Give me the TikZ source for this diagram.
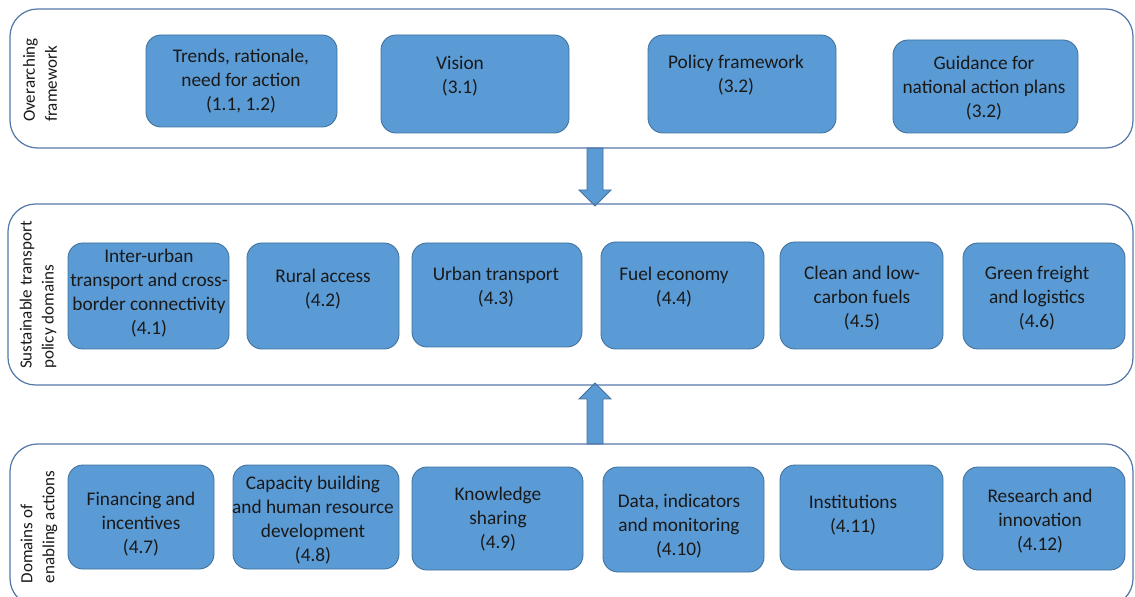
\documentclass[tikz,border=0pt]{standalone}
\usepackage{fontspec}
\setmainfont{Carlito}
\usetikzlibrary{fit,calc}
\definecolor{boxblue}{RGB}{91,155,213}
\definecolor{boxedge}{RGB}{65,113,156}
\definecolor{paneledge}{RGB}{84,120,170}
\definecolor{txtcol}{RGB}{25,25,25}
\tikzset{
  panel/.style={draw=paneledge, line width=0.7pt, rounded corners=0.55cm, inner sep=0pt},
  box/.style={draw=boxedge, fill=boxblue, line width=0.5pt, rounded corners=0.3cm, inner sep=0pt},
  boxtext/.style={text=txtcol, align=center, font=\fontsize{11}{13.6}\selectfont, inner sep=0pt},
  side/.style={text=txtcol, align=left, rotate=90, font=\fontsize{9.7}{12.5}\selectfont, inner sep=0pt},
  barrow/.style={draw=boxedge, fill=boxblue, line width=0.5pt}
}
\begin{document}
\begin{tikzpicture}[x=0.02cm, y=-0.02cm]
\useasboundingbox (0,0) rectangle (1135,597);
\clip (0,0) rectangle (1135,597);

% block arrows between the panels
\coordinate (downTop) at (595,148);
\coordinate (downTip) at (595,206);
\draw[barrow] ($(downTop)+(-8,0)$) -- ($(downTip)+(-8,-16)$) -- ($(downTip)+(-16,-16)$) -- (downTip)
  -- ($(downTip)+(16,-16)$) -- ($(downTip)+(8,-16)$) -- ($(downTop)+(8,0)$) -- cycle;

\coordinate (upBot) at (595,444);
\coordinate (upTip) at (595,383);
\draw[barrow] ($(upBot)+(-8,0)$) -- ($(upTip)+(-8,16)$) -- ($(upTip)+(-16,16)$) -- (upTip)
  -- ($(upTip)+(16,16)$) -- ($(upTip)+(8,16)$) -- ($(upBot)+(8,0)$) -- cycle;

%---------------------------------
% panels
\node[panel, fit={(10,9) (1133,148)}] (over) {};
\node[panel, fit={(8,204) (1133,385)}] (domains) {};
\node[panel, fit={(10,444) (1133,606)}] (enabling) {};

\node[side] (overL) at (40,80) {Overarching\\framework};
\node[side] (domainsL) at (38,295) {Sustainable transport\\policy domains};
\node[side] (enablingL) at (39,527) {Domains of\\enabling actions};

%---------------------------------
% overarching framework
\node[box, fit={(146,35) (337,127)}] (trends) {};
\node[boxtext] (trendsT) at (241,81) {Trends, rationale,\\need for action\\(1.1, 1.2)};
\node[box, fit={(381,35) (569,133)}] (vision) {};
\node[boxtext] (visionT) at (460,76) {Vision\\(3.1)};
\node[box, fit={(648,35) (836,133)}] (policy) {};
\node[boxtext] (policyT) at (736,75) {Policy framework\\(3.2)};
\node[box, fit={(893,40) (1078,133)}] (guidance) {};
\node[boxtext] (guidanceT) at (984,88) {Guidance for\\national action plans\\(3.2)};

%---------------------------------
% policy domains
\node[box, fit={(68,243) (229,349)}] (interurban) {};
\node[boxtext] (interurbanT) at (149,293) {Inter-urban\\transport and cross-\\border connectivity\\(4.1)};
\node[box, fit={(247,243) (399,349)}] (rural) {};
\node[boxtext] (ruralT) at (323,289) {Rural access\\(4.2)};
\node[box, fit={(412,243) (582,347)}] (urban) {};
\node[boxtext] (urbanT) at (496,287) {Urban transport\\(4.3)};
\node[box, fit={(601,242) (764,349)}] (fuel) {};
\node[boxtext] (fuelT) at (674,287) {Fuel economy\\(4.4)};
\node[box, fit={(780,242) (943,349)}] (clean) {};
\node[boxtext] (cleanT) at (862,298) {Clean and low-\\carbon fuels\\(4.5)};
\node[box, fit={(963,243) (1125,349)}] (green) {};
\node[boxtext] (greenT) at (1037,298) {Green freight\\and logistics\\(4.6)};

%---------------------------------
% enabling actions
\node[box, fit={(68,465) (214,569)}] (financing) {};
\node[boxtext] (financingT) at (141,524) {Financing and\\incentives\\(4.7)};
\node[box, fit={(233,465) (399,569)}] (capacity) {};
\node[boxtext] (capacityT) at (313,520) {Capacity building\\and human resource\\development\\(4.8)};
\node[box, fit={(412,467) (583,570)}] (knowledge) {};
\node[boxtext] (knowledgeT) at (498,519) {Knowledge\\sharing\\(4.9)};
\node[box, fit={(603,467) (764,572)}] (data) {};
\node[boxtext] (dataT) at (679,526) {Data, indicators\\and monitoring\\(4.10)};
\node[box, fit={(780,465) (943,570)}] (institutions) {};
\node[boxtext] (institutionsT) at (853,515) {Institutions\\(4.11)};
\node[box, fit={(963,467) (1125,570)}] (research) {};
\node[boxtext] (researchT) at (1040,521) {Research and\\innovation\\(4.12)};

\end{tikzpicture}
\end{document}
